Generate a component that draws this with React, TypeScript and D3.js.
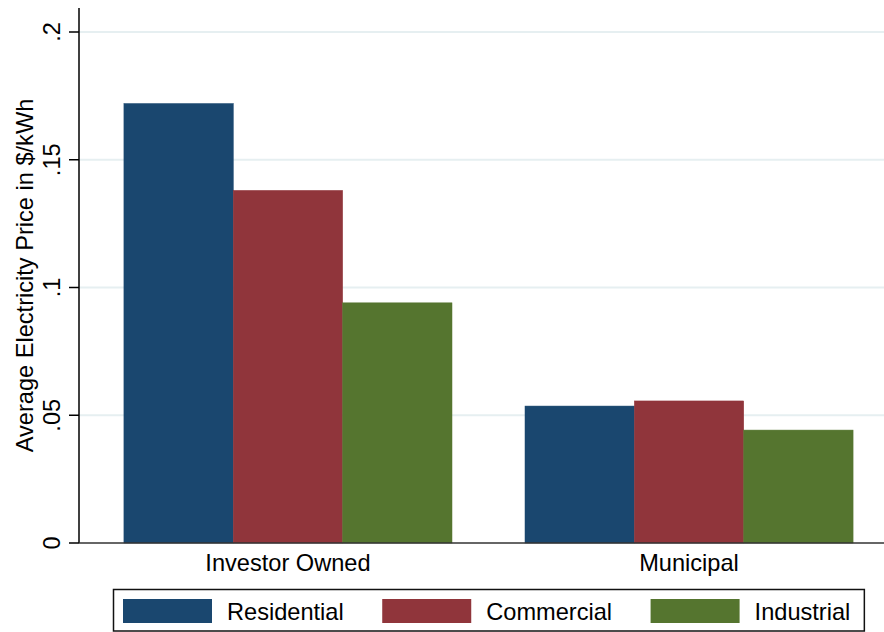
import * as d3 from "d3";
import { useEffect, useRef } from "react";

// data
const categories = ["Investor Owned", "Municipal"];
const seriesNames = ["Residential", "Commercial", "Industrial"];
const residential = [0.172, 0.0536];
const commercial = [0.138, 0.0556];
const industrial = [0.094, 0.0442];
const yTicks = [0, 0.05, 0.1, 0.15, 0.2];
const yTickLabels = ["0", ".05", ".1", ".15", ".2"];
const colors = ["#1a476f", "#90353b", "#55752f"];

const W = 884;
const H = 632;
const FONT = "'Liberation Sans', Arial, Helvetica, sans-serif";
const FS = 23.6;

export default function App() {
  const svgRef = useRef<SVGSVGElement>(null);

  useEffect(() => {
    document.body.style.margin = "0";
    if (!svgRef.current) return;
    const svg = d3.select(svgRef.current);
    svg.selectAll("*").remove();

    const left = 79;
    const top = 8;
    const bottom = 543;

    const series = [residential, commercial, industrial];

    const x0 = d3
      .scaleBand<string>()
      .domain(categories)
      .range([left, 898])
      .paddingInner(0.182)
      .paddingOuter(0.112);

    const x1 = d3
      .scaleBand<string>()
      .domain(seriesNames)
      .range([0, x0.bandwidth()])
      .padding(0);

    const y = d3.scaleLinear().domain([0, 0.2]).range([bottom, 32]);

    // grid lines
    svg
      .append("g")
      .selectAll("line")
      .data(yTicks.filter((d) => d > 0))
      .join("line")
      .attr("x1", left)
      .attr("x2", W)
      .attr("y1", (d) => y(d))
      .attr("y2", (d) => y(d))
      .attr("stroke", "#e6eff1")
      .attr("stroke-width", 2);

    // bars
    const groups = svg
      .append("g")
      .selectAll("g")
      .data(categories)
      .join("g")
      .attr("transform", (c) => `translate(${x0(c)},0)`);

    groups
      .selectAll("rect")
      .data((_, ci) => series.map((s, si) => ({ name: seriesNames[si], v: s[ci], si })))
      .join("rect")
      .attr("x", (d) => x1(d.name)!)
      .attr("width", x1.bandwidth())
      .attr("y", (d) => y(d.v))
      .attr("height", (d) => y(0) - y(d.v))
      .attr("fill", (d) => colors[d.si])
      .attr("stroke", (d) => colors[d.si])
      .attr("stroke-width", 0.5);

    // y axis
    svg
      .append("line")
      .attr("x1", left)
      .attr("x2", left)
      .attr("y1", top)
      .attr("y2", bottom)
      .attr("stroke", "#000")
      .attr("stroke-width", 1.5);

    const yt = svg.append("g").selectAll("g").data(yTicks).join("g");
    yt.append("line")
      .attr("x1", left - 10)
      .attr("x2", left)
      .attr("y1", (d) => y(d))
      .attr("y2", (d) => y(d))
      .attr("stroke", "#000")
      .attr("stroke-width", 1.5);
    yt.append("text")
      .attr("transform", (d) => `translate(60,${y(d)}) rotate(-90)`)
      .attr("text-anchor", "middle")
      .attr("font-family", FONT)
      .attr("font-size", FS)
      .attr("fill", "#000")
      .text((_, i) => yTickLabels[i]);

    svg
      .append("text")
      .attr("transform", `translate(33,${(top + bottom) / 2}) rotate(-90)`)
      .attr("text-anchor", "middle")
      .attr("font-family", FONT)
      .attr("font-size", FS)
      .attr("fill", "#000")
      .text("Average Electricity Price in $/kWh");

    // x axis
    svg
      .append("line")
      .attr("x1", left)
      .attr("x2", W)
      .attr("y1", bottom)
      .attr("y2", bottom)
      .attr("stroke", "#333")
      .attr("stroke-width", 1.5);

    svg
      .append("g")
      .selectAll("text")
      .data(categories)
      .join("text")
      .attr("x", (c) => x0(c)! + x0.bandwidth() / 2)
      .attr("y", 571)
      .attr("text-anchor", "middle")
      .attr("font-family", FONT)
      .attr("font-size", FS)
      .attr("fill", "#000")
      .text((c) => c);

    // legend
    const legend = svg.append("g");
    const box = legend.append("rect");
    let cursor = 123;
    seriesNames.forEach((name, i) => {
      legend
        .append("rect")
        .attr("x", cursor)
        .attr("y", 599)
        .attr("width", 89)
        .attr("height", 24)
        .attr("fill", colors[i]);
      const t = legend
        .append("text")
        .attr("x", cursor + 104)
        .attr("y", 620)
        .attr("font-family", FONT)
        .attr("font-size", FS)
        .attr("fill", "#000")
        .text(name);
      const tw = (t.node() as SVGTextElement).getComputedTextLength();
      cursor += 104 + tw + (i < seriesNames.length - 1 ? 38.5 : 14);
    });
    box
      .attr("x", 113.5)
      .attr("y", 589.5)
      .attr("width", cursor - 113.5)
      .attr("height", 41.5)
      .attr("fill", "#fff")
      .attr("stroke", "#111")
      .attr("stroke-width", 1.5);
  }, []);

  return (
    <svg
      ref={svgRef}
      width={W}
      height={H}
      viewBox={`0 0 ${W} ${H}`}
      style={{ display: "block", background: "#fff" }}
    />
  );
}
